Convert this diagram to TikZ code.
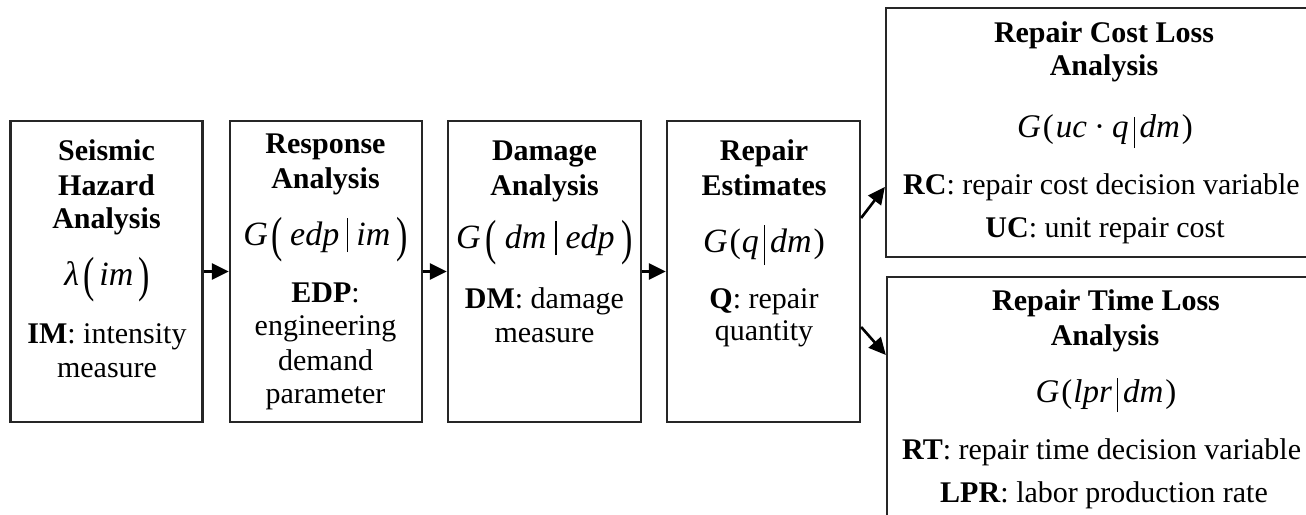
\documentclass[tikz,border=0pt]{standalone}
\usepackage{fontspec}
\setmainfont{Liberation Serif}
\usepackage{graphicx}
\usetikzlibrary{arrows.meta}

\newcommand{\lpar}{\raisebox{-0.2em}{\scalebox{1}[1.45]{(}}}
\newcommand{\rpar}{\raisebox{-0.2em}{\scalebox{1}[1.45]{)}}}
\newcommand{\vbar}[2]{\rule[-#1]{1.1pt}{#2}}

\begin{document}
\begin{tikzpicture}[x=1pt,y=-1pt,
  box/.style={draw=black!85,line width=2.3pt,inner sep=0pt},
  txt/.style={inner sep=0pt,anchor=base,font=\fontsize{30}{34}\selectfont},
  txtw/.style={inner sep=0pt,anchor=base west,font=\fontsize{30}{34}\selectfont},
  fml/.style={inner sep=0pt,anchor=base,font=\fontsize{34}{40}\selectfont},
  fmls/.style={inner sep=0pt,anchor=base,font=\fontsize{33}{38}\selectfont},
  arr/.style={line width=2.6pt,draw=black,-{Triangle[length=17pt,width=16pt]}}]
\useasboundingbox (0,0) rectangle (1306,514);
\clip (0,0) rectangle (1306,514);

% boxes
\node[box,minimum width=192pt,minimum height=301pt] (b1) at (106.5,271.5) {};
\node[box,minimum width=192pt,minimum height=301pt] (b2) at (326,271.5) {};
\node[box,minimum width=193pt,minimum height=301pt] (b3) at (544.5,271.5) {};
\node[box,minimum width=193pt,minimum height=301pt] (b4) at (763.5,271.5) {};
\node[box,minimum width=436pt,minimum height=249pt] (b5) at (1104,132.5) {};
\node[box,minimum width=435pt,minimum height=253pt] (b6) at (1104.5,403.5) {};

% arrows
\draw[arr] (b1.east) -- (b2.west);
\draw[arr] (b2.east) -- (b3.west);
\draw[arr] (b3.east) -- (b4.west);
\draw[arr] ([yshift=53.5pt]b4.east) -- ([yshift=-54.5pt]b5.west);
\draw[arr] ([yshift=-55.5pt]b4.east) -- ([yshift=48.5pt]b6.west);

% box 1
\node[txt] (t1a) at (106.5,160) {\textbf{Seismic}};
\node[txt] (t1b) at (106.5,195) {\textbf{Hazard}};
\node[txt] (t1c) at (106.5,228) {\textbf{Analysis}};
\node[fml] (f1) at (107,285) {\textit{λ}\kern4pt\lpar\kern5pt\textit{im}\kern5pt\rpar};
\node[txt] (d1a) at (107,343) {\textbf{IM}: intensity};
\node[txt] (d1b) at (107,377) {measure};

% box 2
\node[txt] (t2a) at (325.5,153) {\textbf{Response}};
\node[txt] (t2b) at (325.5,188) {\textbf{Analysis}};
\node[fml] (f2) at (325.5,245) {\textit{G}\kern4pt\lpar\kern7pt\textit{edp}\kern8pt\vbar{7pt}{34pt}\kern8pt\textit{im}\kern6pt\rpar};
\node[txt] (d2a) at (325.5,302) {\textbf{EDP}:};
\node[txt] (d2b) at (325.5,335) {engineering};
\node[txt] (d2c) at (325.5,370) {demand};
\node[txt] (d2d) at (325.5,403) {parameter};

% box 3
\node[txt] (t3a) at (544.5,160) {\textbf{Damage}};
\node[txt] (t3b) at (544.5,195) {\textbf{Analysis}};
\node[fml] (f3) at (544.5,248) {\textit{G}\kern5pt\lpar\kern8pt\textit{dm}\kern9pt\vbar{7pt}{34pt}\kern9pt\textit{edp}\kern7pt\rpar};
\node[txt] (d3a) at (544.5,308) {\textbf{DM}: damage};
\node[txt] (d3b) at (544.5,342) {measure};

% box 4
\node[txt] (t4a) at (764,160) {\textbf{Repair}};
\node[txt] (t4b) at (764,195) {\textbf{Estimates}};
\node[fml] (f4) at (764,252) {\textit{G}\kern2pt(\kern1pt\textit{q}\kern5pt\vbar{13pt}{40pt}\kern5pt\textit{dm}\kern2pt)};
\node[txt] (d4a) at (764,308) {\textbf{Q}: repair};
\node[txt] (d4b) at (764,340) {quantity};

% box 5
\node[txt] (t5a) at (1104,42) {\textbf{Repair Cost Loss}};
\node[txt] (t5b) at (1104,75) {\textbf{Analysis}};
\node[fmls] (f5) at (1105,137) {\textit{G}\kern2pt(\kern2pt\textit{uc}\kern7pt·\kern7pt\textit{q}\kern5pt\vbar{11pt}{31pt}\kern5pt\textit{dm}\kern2pt)};
\node[txtw] (d5a) at (903,194) {\textbf{RC}: repair cost decision variable};
\node[txt] (d5b) at (1105,237) {\textbf{UC}: unit repair cost};

% box 6
\node[txt] (t6a) at (1106,310) {\textbf{Repair Time Loss}};
\node[txt] (t6b) at (1105,345) {\textbf{Analysis}};
\node[fmls] (f6) at (1106,402) {\textit{G}\kern2pt(\kern1pt\textit{lpr}\kern5pt\vbar{10pt}{34pt}\kern5pt\textit{dm}\kern2pt)};
\node[txtw] (d6a) at (902,459) {\textbf{RT}: repair time decision variable};
\node[txt] (d6b) at (1104,502) {\textbf{LPR}: labor production rate};
\end{tikzpicture}
\end{document}
